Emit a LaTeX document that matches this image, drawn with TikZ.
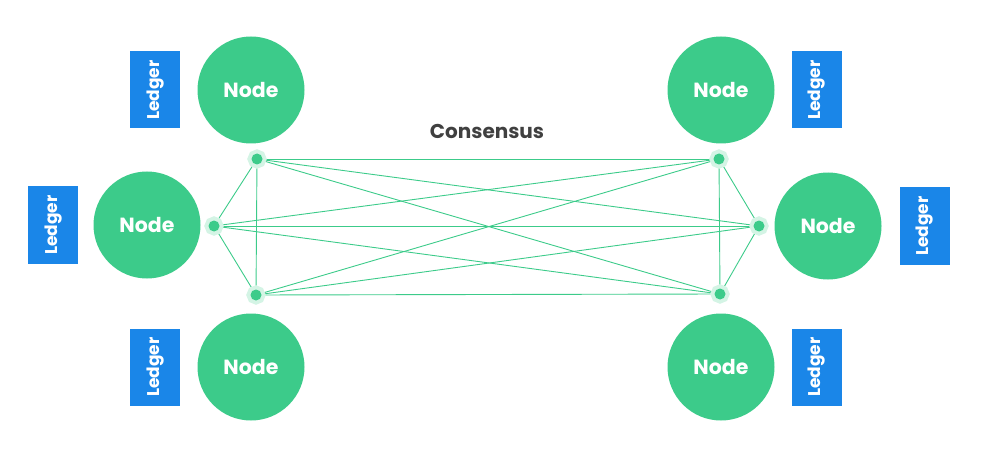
\documentclass[tikz,border=0pt]{standalone}
\usepackage{fontspec}
\setmainfont{Poppins}
\usepackage{tikz}
\usetikzlibrary{positioning, backgrounds}
\definecolor{peergreen}{HTML}{3CCB8A}
\definecolor{ledgerblue}{HTML}{1A86E8}
\definecolor{labelgray}{HTML}{404040}

\begin{document}
\begin{tikzpicture}[
    x=1pt, y=-1pt,
    node distance=17pt,
    peer/.style={circle, fill=peergreen, minimum size=107pt, inner sep=0pt, font=\fontsize{20.5}{24}\selectfont\bfseries, text=white},
    ledger/.style={rectangle, fill=ledgerblue, minimum width=50pt, minimum height=77pt, inner sep=0pt, font=\fontsize{17}{20}\selectfont\bfseries, text=white},
    hub/.style={circle, fill=peergreen, preaction={draw=peergreen!22, line width=8pt}, minimum size=11pt, inner sep=0pt},
    link/.style={peergreen, line width=0.9pt},
    title/.style={font=\fontsize{20}{24}\selectfont\bfseries, text=labelgray},
]

\useasboundingbox (0,0) rectangle (987,449);

% ─── Left side ───
\node[peer] (n1) at (251,90) {Node};
\node[ledger, left=17pt of n1] (l1) {\rotatebox{90}{Ledger}};
\node[peer] (n2) at (147,225) {Node};
\node[ledger, left=15pt of n2] (l2) {\rotatebox{90}{Ledger}};
\node[peer] (n3) at (251,367) {Node};
\node[ledger, left=17pt of n3] (l3) {\rotatebox{90}{Ledger}};

% ─── Right side ───
\node[peer] (n4) at (721,90) {Node};
\node[ledger, right=17pt of n4] (l4) {\rotatebox{90}{Ledger}};
\node[peer] (n5) at (828,226) {Node};
\node[ledger, right=18pt of n5] (l5) {\rotatebox{90}{Ledger}};
\node[peer] (n6) at (721,367) {Node};
\node[ledger, right=17pt of n6] (l6) {\rotatebox{90}{Ledger}};

% ─── Consensus mesh ───
\node[title] (cons) at (487,131) {Consensus};
\node[hub] (c1) at (257,159) {};
\node[hub] (c2) at (214,226) {};
\node[hub] (c3) at (256,295) {};
\node[hub] (c4) at (719,159) {};
\node[hub] (c5) at (759,226) {};
\node[hub] (c6) at (720,294) {};

\begin{scope}[on background layer]
\foreach \i [evaluate=\i as \k using int(\i+1)] in {1,...,5}
  \foreach \j in {\k,...,6}
    \draw[link] (c\i.center) -- (c\j.center);
\end{scope}

\end{tikzpicture}
\end{document}
